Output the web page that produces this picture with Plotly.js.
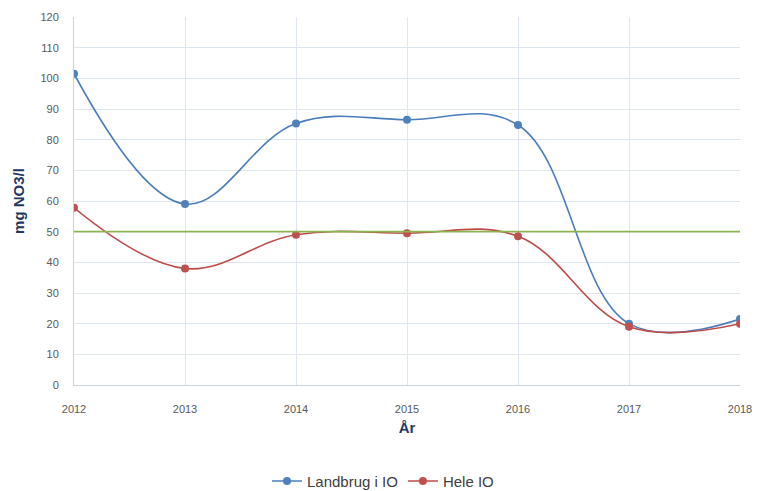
<!DOCTYPE html>
<html>
<head>
<meta charset="utf-8">
<script src="https://cdn.plot.ly/plotly-3.0.1.min.js"></script>
<style>html,body{margin:0;padding:0;background:#fff;}#chart{width:766px;height:491px;}</style>
</head>
<body>
<div id="chart"></div>
<script>
// Nitrate concentration per year
const years = [2012, 2013, 2014, 2015, 2016, 2017, 2018];
const landbrug = [101.5, 59, 85.3, 86.5, 84.8, 20, 21.5];
const heleIO = [57.8, 38, 49, 49.5, 48.5, 19, 20];
const limitValue = 50;

const traces = [
  {
    x: years, y: landbrug, name: 'Landbrug i IO', type: 'scatter', mode: 'lines+markers',
    line: {color: '#4a7ebb', width: 1.6, shape: 'spline', smoothing: 1.1},
    marker: {color: '#4f81bd', size: 8}
  },
  {
    x: years, y: heleIO, name: 'Hele IO', type: 'scatter', mode: 'lines+markers',
    line: {color: '#be4b48', width: 1.6, shape: 'spline', smoothing: 1.1},
    marker: {color: '#c0504d', size: 8}
  },
  {
    x: [years[0], years[years.length - 1]], y: [limitValue, limitValue], type: 'scatter', mode: 'lines',
    line: {color: '#8cb34f', width: 1.6}, showlegend: false, hoverinfo: 'skip'
  }
];

const layout = {
  width: 766, height: 491,
  margin: {l: 74, r: 26, t: 17, b: 106, autoexpand: false},
  paper_bgcolor: '#ffffff', plot_bgcolor: '#ffffff',
  font: {family: 'Liberation Sans, Arial, sans-serif', color: '#595959', size: 11},
  showlegend: true,
  legend: {orientation: 'h', x: 0.5, xanchor: 'center', xref: 'container',
           y: 0.02, yanchor: 'middle', yref: 'container',
           font: {size: 15, color: '#404040', family: 'Liberation Sans, Arial, sans-serif'}},
  xaxis: {
    range: [2012, 2018], tickvals: years, ticktext: years.map(String),
    showgrid: true, gridcolor: '#dde6f0', zeroline: false,
    showline: true, linecolor: '#c8d3df', linewidth: 1,
    ticks: 'outside', ticklen: 14, tickcolor: 'rgba(0,0,0,0)',
    tickfont: {size: 11, color: '#595959'},
    title: {text: 'År', font: {size: 15, color: '#1f3864', family: 'Liberation Sans, Arial, sans-serif', weight: 'bold'}, standoff: 8}
  },
  yaxis: {
    range: [0, 120], dtick: 10,
    showgrid: true, gridcolor: '#dde6f0', zeroline: false,
    showline: true, linecolor: '#c8d3df', linewidth: 1,
    ticks: 'outside', ticklen: 12, tickcolor: 'rgba(0,0,0,0)',
    tickfont: {size: 11, color: '#595959'},
    title: {text: 'mg NO3/l', font: {size: 15, color: '#1f3864', family: 'Liberation Sans, Arial, sans-serif', weight: 'bold'}, standoff: 12}
  }
};

Plotly.newPlot('chart', traces, layout, {displayModeBar: false, staticPlot: true});
</script>
</body>
</html>
